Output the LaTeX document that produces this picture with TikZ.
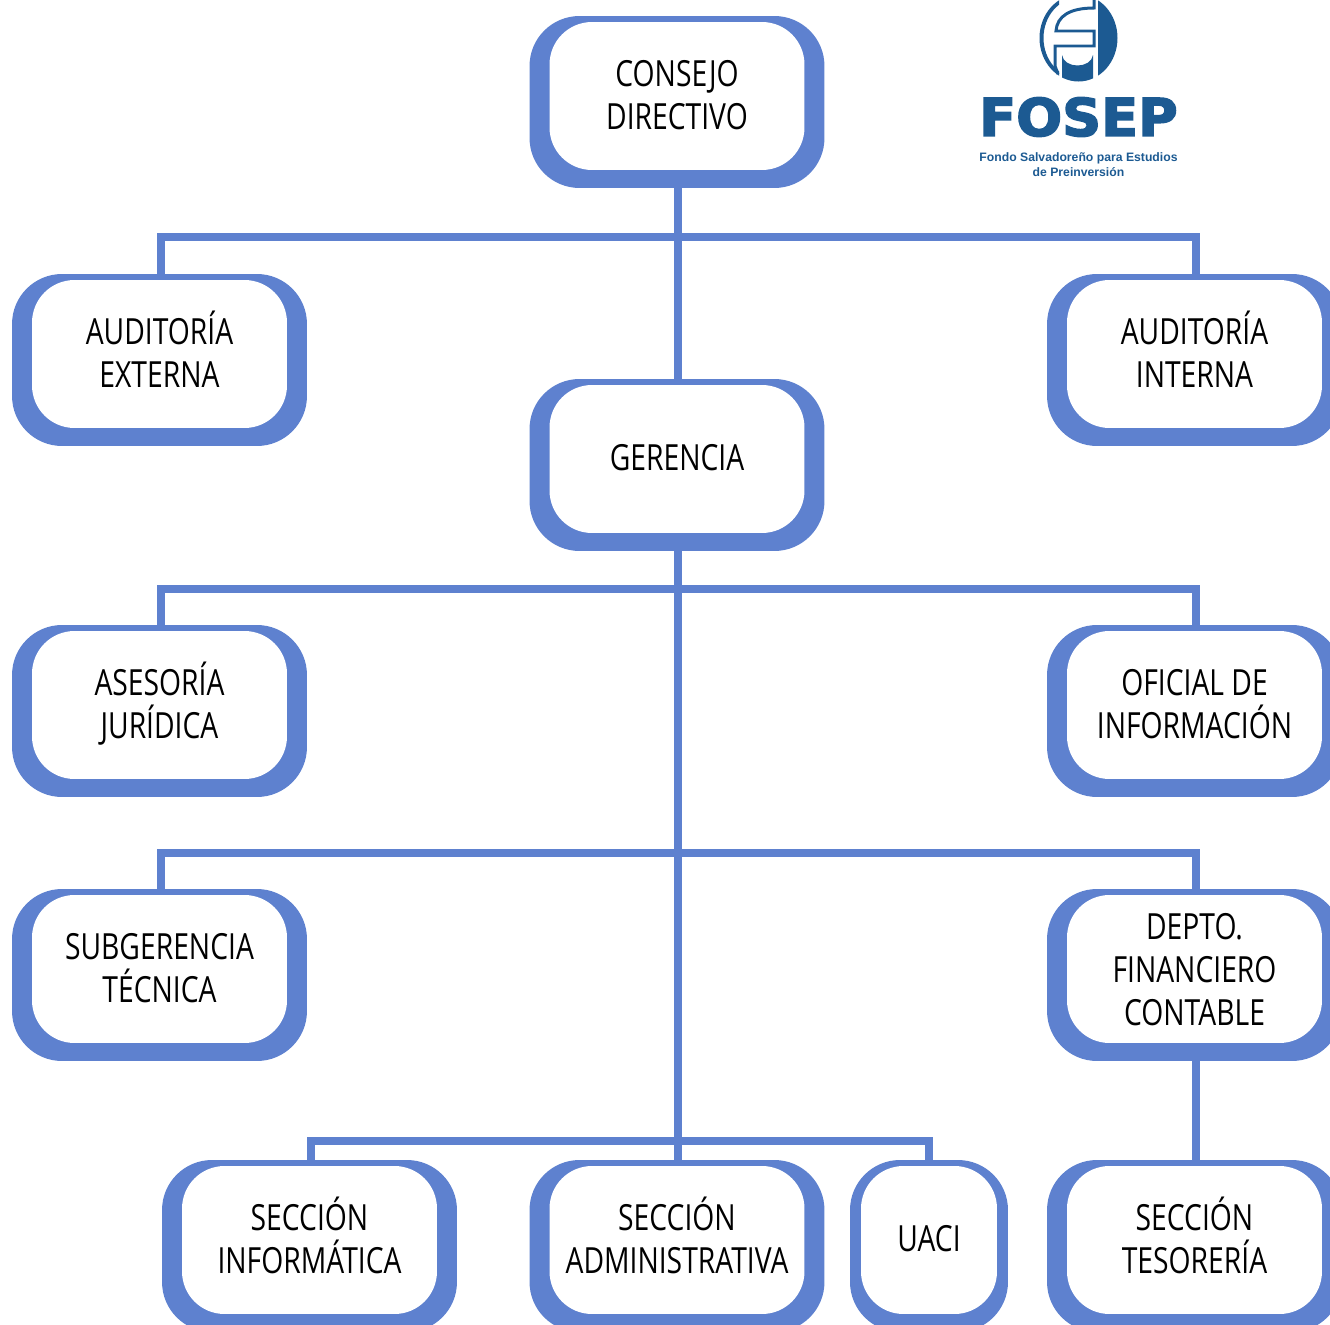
\documentclass[tikz,border=0pt]{standalone}
\usepackage{fontspec}
\setmainfont[FakeStretch=0.785]{Open Sans}
\newfontfamily\logofont[FakeBold=3,FakeStretch=1.04]{DejaVu Sans Bold}
\newfontfamily\subfont{Liberation Sans}
\usetikzlibrary{positioning}
\definecolor{azulcaja}{RGB}{94,129,207}
\definecolor{azullogo}{RGB}{28,90,146}
\newcommand{\arriba}{\rule{0pt}{22pt}}
\newcommand{\abajo}{\rule[-8.6pt]{0pt}{8.6pt}}
\tikzset{
  x=0.02cm,y=-0.02cm,
  fondo/.style={fill=azulcaja,rounded corners=1cm,minimum width=5.9cm,minimum height=3.44cm,inner sep=0pt},
  caja/.style={fill=white,rounded corners=0.85cm,minimum width=5.1cm,minimum height=2.96cm,inner sep=0pt,align=center,
    font=\fontsize{20.5}{24.7}\selectfont},
  linea/.style={draw=azulcaja,line width=0.16cm},
  trazo/.style={draw=azullogo,line width=0.06cm},
}
\begin{document}
\begin{tikzpicture}
        \useasboundingbox (0,0) rectangle (1330,1325);
        \begin{scope}
        \clip (0,0) rectangle (1330,1325);
        % puntos de cruce
        \coordinate (n1) at (678,237);
        \coordinate (n2) at (678,589);
        \coordinate (n3) at (678,853);
        \coordinate (n4) at (678,1141);
        % fondos azules
        \node[fondo] (consejof) at (677,102) {};
        \node[fondo] (audextf) at (159.5,360) {};
        \node[fondo] (audintf) at (1194.5,360) {};
        \node[fondo] (gerenciaf) at (677,465) {};
        \node[fondo] (asesoriaf) at (159.5,711) {};
        \node[fondo] (oficialf) at (1194.5,711) {};
        \node[fondo] (subgerf) at (159.5,975) {};
        \node[fondo] (deptof) at (1194.5,975) {};
        \node[fondo] (informf) at (309.5,1246) {};
        \node[fondo] (adminf) at (677,1246) {};
        \node[fondo,minimum width=3.16cm] (uacif) at (929,1246) {};
        \node[fondo] (tesorf) at (1194.5,1246) {};
        % lineas
        \draw[linea] (consejof.south -| n1) -- (gerenciaf.north -| n1);
        \draw[linea] (gerenciaf.south -| n1) -- (adminf.north -| n1);
        \draw[linea] ([xshift=0.02cm]audextf.north) |- (n1) -| ([xshift=0.02cm]audintf.north);
        \draw[linea] ([xshift=0.02cm]asesoriaf.north) |- (n2) -| ([xshift=0.02cm]oficialf.north);
        \draw[linea] ([xshift=0.02cm]subgerf.north) |- (n3) -| ([xshift=0.02cm]deptof.north);
        \draw[linea] ([xshift=0.02cm]informf.north) |- (n4) -| (uacif.north);
        \draw[linea] ([xshift=0.02cm]deptof.south) -- ([xshift=0.02cm]tesorf.north);
        % cajas blancas
        \node[caja] (consejo) at (677,96) {\arriba CONSEJO\\DIRECTIVO\abajo};
        \node[caja] (audext) at (159.5,354) {\arriba AUDITORÍA\\EXTERNA\abajo};
        \node[caja] (audint) at (1194.5,354) {\arriba AUDITORÍA\\INTERNA\abajo};
        \node[caja] (gerencia) at (677,459) {\arriba GERENCIA\abajo};
        \node[caja] (asesoria) at (159.5,705) {\arriba ASESORÍA\\JURÍDICA\abajo};
        \node[caja] (oficial) at (1194.5,705) {\arriba OFICIAL DE\\INFORMACIÓN\abajo};
        \node[caja] (subger) at (159.5,969) {\arriba SUBGERENCIA\\TÉCNICA\abajo};
        \node[caja] (depto) at (1194.5,969) {\rule{0pt}{24pt}DEPTO.\\FINANCIERO\\CONTABLE\abajo};
        \node[caja] (inform) at (309.5,1240) {\arriba SECCIÓN\\INFORMÁTICA\abajo};
        \node[caja] (admin) at (677,1240) {\arriba SECCIÓN\\ADMINISTRATIVA\abajo};
        \node[caja,minimum width=2.72cm] (uaci) at (929,1240) {\arriba UACI\abajo};
        \node[caja] (tesor) at (1194.5,1240) {\arriba SECCIÓN\\TESORERÍA\abajo};
        % logo
        \begin{scope}
        \clip (1030,-10) rectangle (1059,90);
        \fill[azullogo,even odd rule] (1078.5,38) ellipse [x radius=39,y radius=43.5] (1078.5,38) ellipse [x radius=35,y radius=40];
        \end{scope}
        \begin{scope}
        \clip (1078.5,38) ellipse [x radius=39,y radius=43.5];
        \fill[azullogo] (1098,-10) rectangle (1120,90);
        \fill[azullogo] (1062,55) .. controls (1064,69) and (1091,69) .. (1093,55) -- (1093,90) -- (1062,90) -- cycle;
        \end{scope}
        \draw[trazo] (1094,-2) -- (1094,8) .. controls (1070,8) and (1057,16) .. (1056,31) -- (1094,31) -- (1094,46) -- (1055,46) -- (1055,66) -- (1058,74);
        \node[text=azullogo,inner sep=0pt,font=\logofont\fontsize{29.6}{30}\selectfont] (fosep) at (1078.5,117) {FOSEP};
        \node[text=azullogo,inner sep=0pt,align=center,font=\subfont\bfseries\fontsize{6.95}{8.6}\selectfont] (fondo) at (1078.5,164.5) {Fondo Salvadoreño para Estudios\\de Preinversión};
        \end{scope}
\end{tikzpicture}
\end{document}
